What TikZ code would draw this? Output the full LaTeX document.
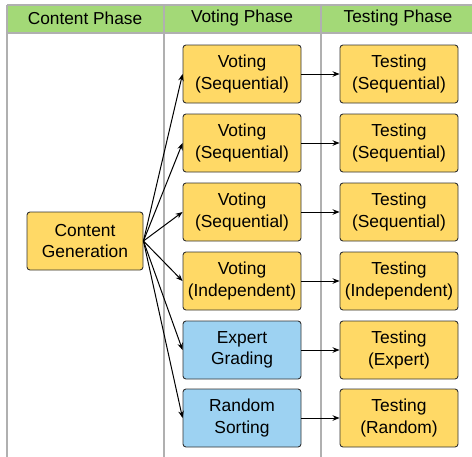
\documentclass[tikz,border=0pt]{standalone}
\usepackage{fontspec}
\setmainfont{Liberation Sans}
\usetikzlibrary{arrows.meta}
\definecolor{boxyellow}{RGB}{255,217,102}
\definecolor{boxblue}{RGB}{157,210,242}
\definecolor{hdrgreen}{RGB}{163,217,119}
\definecolor{lanegray}{RGB}{176,176,176}
\definecolor{edgegray}{RGB}{50,50,50}
\tikzset{
  phasebox/.style={draw=edgegray, line width=0.9pt, rounded corners=3pt,
    minimum width=118pt, minimum height=58pt, inner sep=0pt, align=center,
    font=\fontsize{17.4}{21.5}\selectfont},
  ybox/.style={phasebox, fill=boxyellow},
  bbox/.style={phasebox, fill=boxblue},
  hdr/.style={font=\fontsize{17.3}{20}\selectfont, inner sep=0pt},
  lane/.style={draw=lanegray, line width=2pt},
  conn/.style={-{Stealth[length=7pt,width=5.5pt]}, line width=1pt, black}
}
\begin{document}
\begin{tikzpicture}[x=1pt,y=-1pt]
\useasboundingbox (0,0) rectangle (472,456);
% header
\fill[hdrgreen] (7,5) rectangle (474,33);
\draw[lane] (7,5) -- (474,5);
\draw[lane] (7,33) -- (474,33);
\draw[lane] (7,5) -- (7,458);
\draw[lane] (164,5) -- (164,458);
\draw[lane] (321,5) -- (321,458);
\node[hdr] (h1) at (85,18) {Content Phase};
\node[hdr] (h2) at (242,18) {Voting Phase};
\node[hdr] (h3) at (398,18) {Testing Phase};
% content
\node[ybox, minimum width=116pt] (cg) at (85,241) {Content\\Generation};
% voting
\node[ybox] (v1) at (242,74) {Voting\\(Sequential)};
\node[ybox] (v2) at (242,143) {Voting\\(Sequential)};
\node[ybox] (v3) at (242,212) {Voting\\(Sequential)};
\node[ybox] (v4) at (242,281) {Voting\\(Independent)};
\node[bbox] (v5) at (242,350) {Expert\\Grading};
\node[bbox] (v6) at (242,418) {Random\\Sorting};
% testing
\node[ybox] (t1) at (399,74) {Testing\\(Sequential)};
\node[ybox] (t2) at (399,143) {Testing\\(Sequential)};
\node[ybox] (t3) at (399,212) {Testing\\(Sequential)};
\node[ybox] (t4) at (399,281) {Testing\\(Independent)};
\node[ybox] (t5) at (399,350) {Testing\\(Expert)};
\node[ybox] (t6) at (399,418) {Testing\\(Random)};
% connectors
\foreach \i in {1,...,6} {
  \draw[conn] (cg.east) -- (v\i.west);
  \draw[conn] (v\i.east) -- (t\i.west);
}
\end{tikzpicture}
\end{document}
